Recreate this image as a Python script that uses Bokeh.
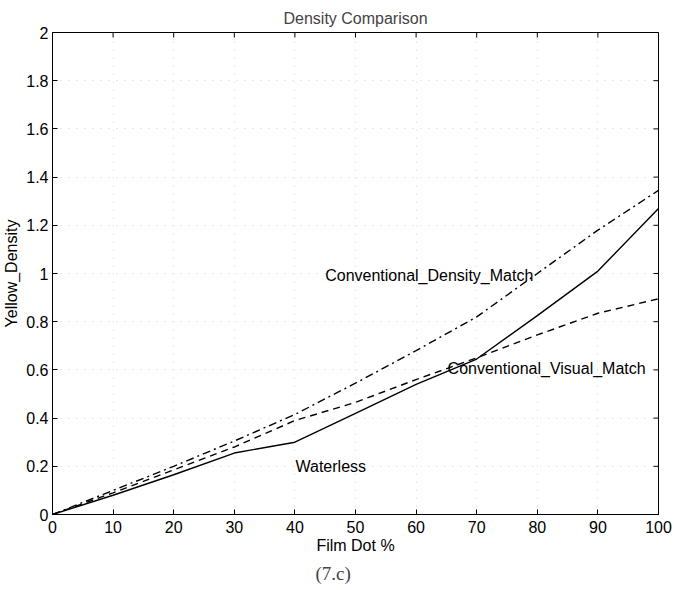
import math
from bokeh.plotting import figure
from bokeh.models import Range1d, FixedTicker, Title, ColumnDataSource
from bokeh.embed import file_html
from bokeh.resources import INLINE
from bokeh.core.properties import value

# ---- data ----
film_dot = [0, 10, 20, 30, 40, 50, 60, 70, 80, 90, 100]
waterless = [0, 0.08, 0.165, 0.255, 0.30, 0.42, 0.54, 0.645, 0.825, 1.01, 1.27]
density_match = [0, 0.10, 0.20, 0.305, 0.415, 0.545, 0.68, 0.82, 1.0, 1.18, 1.345]
visual_match = [0, 0.09, 0.185, 0.28, 0.39, 0.465, 0.56, 0.65, 0.745, 0.835, 0.895]

x_ticks = [0, 10, 20, 30, 40, 50, 60, 70, 80, 90, 100]
x_tick_labels = ["0", "10", "20", "30", "40", "50", "60", "70", "80", "90", "100"]
y_ticks = [0, 0.2, 0.4, 0.6, 0.8, 1, 1.2, 1.4, 1.6, 1.8, 2]
y_tick_labels = ["0", "0.2", "0.4", "0.6", "0.8", "1", "1.2", "1.4", "1.6", "1.8", "2"]

label_texts = ["Conventional_Density_Match", "Conventional_Visual_Match", "Waterless"]
label_x = [45.0, 65.2, 40.1]
label_y = [0.99, 0.606, 0.2]

X_MIN, X_MAX = 0, 100
Y_MIN, Y_MAX = 0, 2

FONT = "Liberation Sans"
FS = "16px"

p = figure(width=674, height=590, output_backend="svg", toolbar_location=None,
           x_range=Range1d(X_MIN, X_MAX), y_range=Range1d(Y_MIN, Y_MAX),
           min_border_left=52, min_border_right=16, min_border_top=32,
           min_border_bottom=76, background_fill_color="white",
           border_fill_color="white")

p.title.text = "Density Comparison"
p.title.align = "center"
p.title.text_font = FONT
p.title.text_font_size = FS
p.title.text_font_style = "normal"
p.title.standoff = 12

p.outline_line_color = "black"
p.outline_line_width = 1

for ax in (p.xaxis[0], p.yaxis[0]):
    ax.major_tick_in = 5
    ax.major_tick_out = 0
    ax.minor_tick_line_color = None
    ax.axis_line_color = "black"
    ax.major_tick_line_color = "black"
    ax.major_label_text_font = FONT
    ax.major_label_text_font_size = FS
    ax.major_label_text_color = "black"
    ax.axis_label_text_font = FONT
    ax.axis_label_text_font_size = FS
    ax.axis_label_text_font_style = "normal"
    ax.axis_label_text_color = "black"

p.xaxis[0].ticker = FixedTicker(ticks=x_ticks)
p.xaxis[0].major_label_overrides = dict(zip(x_ticks, x_tick_labels))
p.xaxis[0].axis_label = "Film Dot %"
p.xaxis[0].major_label_standoff = 6
p.xaxis[0].axis_label_standoff = 1

p.yaxis[0].ticker = FixedTicker(ticks=y_ticks)
p.yaxis[0].major_label_overrides = dict(zip(y_ticks, y_tick_labels))
p.yaxis[0].axis_label = "Yellow_Density"
p.yaxis[0].major_label_standoff = 4
p.yaxis[0].axis_label_standoff = 3

# faint dotted grid
for g in (p.xgrid[0], p.ygrid[0]):
    g.grid_line_color = "#777777"
    g.grid_line_alpha = 0.3
    g.grid_line_dash = "1 7"
p.xgrid[0].ticker = FixedTicker(ticks=x_ticks)
p.ygrid[0].ticker = FixedTicker(ticks=y_ticks)

# inward ticks on the top and right edges (half of each marker is clipped by the frame)
p.scatter(x=x_ticks, y=[Y_MAX] * len(x_ticks), marker="dash", size=10,
          angle=math.pi / 2, line_color="black", line_width=1)
p.scatter(x=[X_MAX] * len(y_ticks), y=y_ticks, marker="dash", size=10,
          line_color="black", line_width=1)

src = ColumnDataSource(dict(x=film_dot, w=waterless, d=density_match, v=visual_match))
p.line("x", "w", source=src, line_color="black", line_width=1.4)
p.line("x", "d", source=src, line_color="black", line_width=1.4, line_dash="8 4 2 4")
p.line("x", "v", source=src, line_color="black", line_width=1.4, line_dash="7 5")

lsrc = ColumnDataSource(dict(x=label_x, y=label_y, t=label_texts))
p.text("x", "y", text="t", source=lsrc, text_font=value(FONT), text_font_size=FS,
       text_align="left", text_baseline="middle", text_color="black")

cap = Title(text="(7.c)", align="left", offset=263, text_font="Liberation Serif",
            text_font_size="19px", text_font_style="normal", standoff=8)
p.add_layout(cap, "below")

open("out.html", "w").write(file_html(p, INLINE))
